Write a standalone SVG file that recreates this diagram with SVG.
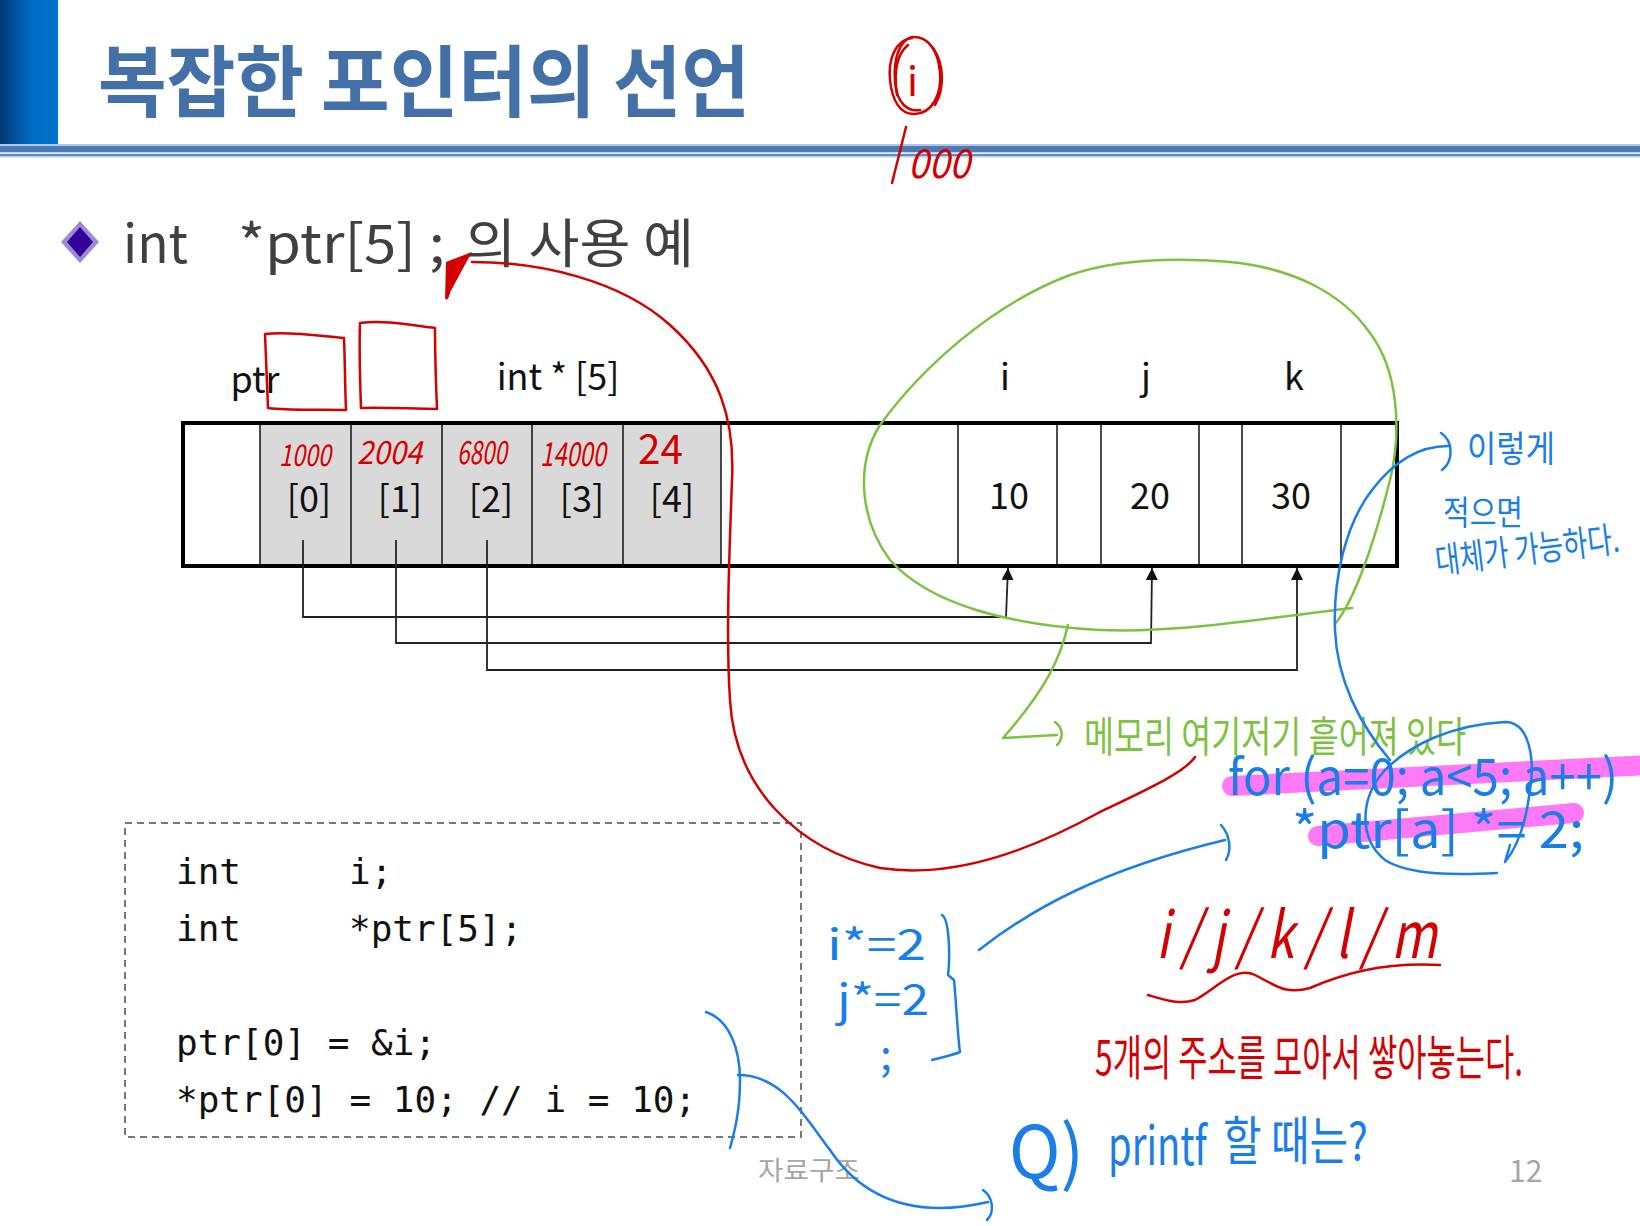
<svg xmlns="http://www.w3.org/2000/svg" width="1640" height="1226" viewBox="0 0 1640 1226">
<defs>
<linearGradient id="gBar" x1="0" y1="0" x2="1" y2="0">
<stop offset="0" stop-color="#003a76"/>
<stop offset="0.55" stop-color="#006cc4"/>
<stop offset="1" stop-color="#0072cc"/>
</linearGradient>
<marker id="arr" viewBox="0 0 12 12" refX="12" refY="6" markerWidth="12" markerHeight="12" markerUnits="userSpaceOnUse" orient="auto">
<path d="M0,0 L12,6 L0,12 z" fill="#111"/>
</marker>
</defs>
<style>
.kr{font-family:"Noto Sans CJK KR","Noto Sans",sans-serif}
.lbl{font-family:"Noto Sans CJK KR","Noto Sans",sans-serif;font-size:36px;fill:#111;text-anchor:middle}
.code{font-family:"DejaVu Sans Mono","Liberation Mono",monospace;font-size:36px;fill:#111}
.cell{stroke:#111;stroke-width:1.5}
.con{fill:none;stroke:#222;stroke-width:1.8}
.red{fill:none;stroke:#d40000;stroke-width:2.5;stroke-linecap:round;stroke-linejoin:round}
.redt{font-family:"Noto Sans CJK KR","DejaVu Sans",sans-serif;fill:#d40000;font-weight:400}
.grn{fill:none;stroke:#7cc23f;stroke-width:2.5;stroke-linecap:round;stroke-linejoin:round}
.grnt{font-family:"Noto Sans CJK KR",sans-serif;fill:#7cc23f;font-weight:400}
.blu{fill:none;stroke:#1a7ee8;stroke-width:2.5;stroke-linecap:round;stroke-linejoin:round}
.blut{font-family:"Noto Sans CJK KR","DejaVu Sans",sans-serif;fill:#1a7ee8;font-weight:400}
.hl{stroke:#ff78f6;stroke-width:20;stroke-linecap:round;fill:none}
</style>
<rect width="1640" height="1226" fill="#fff"/>

<g id="title">
<rect x="0" y="0" width="58" height="148" fill="url(#gBar)"/>
<rect x="0" y="144" width="1640" height="2" fill="#b4c6e0"/>
<rect x="0" y="146" width="1640" height="6" fill="#4a7ab8"/>
<rect x="0" y="152" width="1640" height="1.5" fill="#c6d4ea"/>
<rect x="0" y="154" width="1640" height="2.5" fill="#5f8cc6"/>
<rect x="0" y="156.5" width="1640" height="1" fill="#c6d4ea"/>
<text class="kr" x="98" y="111" font-size="78" font-weight="700" fill="#4470a8" textLength="652" lengthAdjust="spacingAndGlyphs">복잡한 포인터의 선언</text>
</g>

<g id="bullet">
<polygon points="80,221 99,242 80,263 61,242" fill="#9a8ad8"/>
<polygon points="80,227 93,242 80,257 67,242" fill="#330099"/>
<text class="kr" x="123" y="263" font-size="53" fill="#404040" textLength="65" lengthAdjust="spacingAndGlyphs">int</text>
<text class="kr" x="238" y="263" font-size="53" fill="#404040" textLength="207" lengthAdjust="spacingAndGlyphs">*ptr[5] ;</text>
<text class="kr" x="465" y="263" font-size="53" fill="#404040" textLength="229" lengthAdjust="spacingAndGlyphs">의 사용 예</text>
</g>

<g id="memory">
<rect x="183" y="423" width="1214" height="143" fill="#fff" stroke="#000" stroke-width="4"/>
<rect x="260" y="425" width="461" height="139" fill="#d9d9d9"/>
<g class="cell">
<line x1="260" y1="425" x2="260" y2="564"/>
<line x1="351" y1="425" x2="351" y2="564"/>
<line x1="442" y1="425" x2="442" y2="564"/>
<line x1="532" y1="425" x2="532" y2="564"/>
<line x1="623" y1="425" x2="623" y2="564"/>
<line x1="721" y1="425" x2="721" y2="564"/>
<line x1="958" y1="425" x2="958" y2="564"/>
<line x1="1057" y1="425" x2="1057" y2="564"/>
<line x1="1101" y1="425" x2="1101" y2="564"/>
<line x1="1199" y1="425" x2="1199" y2="564"/>
<line x1="1242" y1="425" x2="1242" y2="564"/>
<line x1="1341" y1="425" x2="1341" y2="564"/>
</g>
<g id="ptr0"><text class="lbl" x="309" y="512">[0]</text></g>
<g id="ptr1"><text class="lbl" x="400" y="512">[1]</text></g>
<g id="ptr2"><text class="lbl" x="491" y="512">[2]</text></g>
<g id="ptr3"><text class="lbl" x="582" y="512">[3]</text></g>
<g id="ptr4"><text class="lbl" x="672" y="512">[4]</text></g>
<g id="var-i"><text class="lbl" x="1009" y="509">10</text><text class="lbl" x="1005" y="390">i</text></g>
<g id="var-j"><text class="lbl" x="1150" y="509">20</text><text class="lbl" x="1146" y="390">j</text></g>
<g id="var-k"><text class="lbl" x="1291" y="509">30</text><text class="lbl" x="1294" y="390">k</text></g>
<text class="lbl" x="255" y="393">ptr</text>
<text class="lbl" x="558" y="390">int * [5]</text>
</g>

<g id="connectors">
<path class="con" d="M303,540 V617 H1006 L1008,568" marker-end="url(#arr)"/>
<path class="con" d="M396,540 V643 H1151 L1152,568" marker-end="url(#arr)"/>
<path class="con" d="M487,540 V670 H1297 V568" marker-end="url(#arr)"/>
</g>

<g id="code">
<rect x="125" y="823" width="676" height="314" fill="none" stroke="#777" stroke-width="2" stroke-dasharray="7,5"/>
<text class="code" x="176" y="884">int<tspan x="349">i;</tspan></text>
<text class="code" x="176" y="941">int<tspan x="349">*ptr[5];</tspan></text>
<text class="code" x="176" y="1055">ptr[0] = &amp;i;</text>
<text class="code" x="176" y="1112">*ptr[0] = 10; // i = 10;</text>
</g>

<g id="footer">
<text class="kr" x="758" y="1180" font-size="26" fill="#a6a6a6" textLength="102" lengthAdjust="spacingAndGlyphs">자료구조</text>
<text class="kr" x="1509" y="1182" font-size="30" fill="#a6a6a6">12</text>
</g>

<g id="red-notes">
<path class="red" d="M912,38 C895,40 888,60 890,80 C892,100 900,115 915,114 C932,113 942,95 940,72 C938,50 928,36 912,37 C900,40 893,58 895,82 C897,104 908,112 920,110"/>
<path class="red" d="M908,45 C896,55 894,75 897,95 M933,48 C945,65 944,90 935,105"/>
<text class="redt" x="907" y="96" font-size="40">i</text>
<path class="red" d="M906,127 L892,183"/>
<text class="redt" x="908" y="178" font-size="40" font-style="italic" textLength="62" lengthAdjust="spacingAndGlyphs">000</text>
<path class="red" d="M265,334 C290,331 320,336 344,338 C345,362 345,388 346,410 C320,409 292,411 268,408 C267,385 266,360 265,334 Z"/>
<path class="red" d="M360,323 C385,320 410,325 435,328 C435,355 436,385 437,409 C412,409 386,407 361,408 C360,380 359,350 360,323 Z"/>
<text class="redt" x="279" y="466" font-size="30" font-style="italic" textLength="52" lengthAdjust="spacingAndGlyphs">1000</text>
<text class="redt" x="357" y="464" font-size="32" font-style="italic" textLength="65" lengthAdjust="spacingAndGlyphs">2004</text>
<text class="redt" x="457" y="464" font-size="32" font-style="italic" textLength="50" lengthAdjust="spacingAndGlyphs">6800</text>
<text class="redt" x="540" y="466" font-size="33" font-style="italic" textLength="66" lengthAdjust="spacingAndGlyphs">14000</text>
<text class="redt" x="638" y="464" font-size="40" textLength="45" lengthAdjust="spacingAndGlyphs">24</text>
<path class="red" d="M472,262 C540,262 620,280 670,325 C720,370 735,420 732,480 C729,560 726,640 730,700 C735,790 800,850 880,868 C960,880 1040,845 1100,812 C1150,788 1185,772 1195,757"/>
<polygon points="446,262 472,252 445,300" fill="#d40000"/>
<path class="red" d="M448,264 L468,256 L450,290 L460,260 L447,298"/>
<text class="redt" x="1156" y="958" font-size="64" font-style="italic" textLength="281" lengthAdjust="spacingAndGlyphs">i / j / k / l / m</text>
<path class="red" d="M1148,995 C1165,1000 1180,1005 1195,1000 C1215,990 1235,965 1255,975 C1275,985 1285,995 1310,988 C1340,975 1380,962 1440,965"/>
<text class="redt" x="1095" y="1075" font-size="48" textLength="428" lengthAdjust="spacingAndGlyphs">5개의 주소를 모아서 쌓아놓는다.</text>
</g>

<g id="green-notes">
<path class="grn" d="M1335,624 C1355,600 1375,540 1390,480 C1402,430 1398,370 1370,333 C1340,290 1290,270 1240,263 C1180,257 1120,258 1070,275 C990,305 920,370 880,425 C855,465 860,520 890,560 C930,605 1010,625 1100,630 C1180,633 1250,620 1352,608"/>
<path class="grn" d="M1068,625 C1060,660 1045,690 1003,738 L1057,735"/>
<path class="grn" d="M1055,722 C1063,728 1064,738 1057,745"/>
<text class="grnt" x="1084" y="752" font-size="42" textLength="382" lengthAdjust="spacingAndGlyphs">메모리 여기저기 흩어져 있다</text>
</g>

<g id="blue-notes">
<path class="hl" d="M1232,786 L1650,765"/>
<path class="hl" d="M1318,836 L1574,813"/>
<path class="blu" d="M1448,446 C1420,446 1395,460 1372,490 C1345,525 1333,580 1335,630 C1337,680 1360,725 1390,760"/>
<path class="blu" d="M1441,433 C1452,440 1455,460 1442,470"/>
<text class="blut" x="1467" y="462" font-size="36" textLength="88" lengthAdjust="spacingAndGlyphs">이렇게</text>
<text class="blut" x="1443" y="525" font-size="34" textLength="80" lengthAdjust="spacingAndGlyphs">적으면</text>
<text class="blut" x="1437" y="574" font-size="36" textLength="185" lengthAdjust="spacingAndGlyphs" transform="rotate(-7 1437 574)">대체가 가능하다.</text>
<text class="blut" x="1228" y="795" font-size="50" textLength="390" lengthAdjust="spacingAndGlyphs">for (a=0; a&lt;5; a++)</text>
<text class="blut" x="1292" y="848" font-size="50" textLength="292" lengthAdjust="spacingAndGlyphs">*ptr[a] *= 2;</text>
<path class="blu" d="M1497,873 C1460,875 1410,876 1385,860 C1360,840 1358,800 1385,770 C1410,745 1450,725 1505,722 C1530,722 1535,760 1530,790 C1525,830 1515,850 1505,862 L1510,845"/>
<text class="blut" x="827" y="960" font-size="42" textLength="99" lengthAdjust="spacingAndGlyphs">i*=2</text>
<text class="blut" x="837" y="1015" font-size="42" textLength="92" lengthAdjust="spacingAndGlyphs">j*=2</text>
<text class="blut" x="880" y="1070" font-size="42">;</text>
<path class="blu" d="M942,915 C950,920 950,960 948,975 L954,980 C956,1000 958,1040 960,1052 C950,1056 940,1058 932,1060"/>
<path class="blu" d="M979,950 C1030,910 1100,870 1225,840"/>
<path class="blu" d="M1221,825 C1230,835 1232,850 1226,860"/>
<path class="blu" d="M706,1012 C730,1020 740,1050 740,1080 C740,1110 735,1130 730,1148"/>
<path class="blu" d="M738,1075 C780,1075 800,1110 830,1150 C860,1195 900,1208 940,1208 C960,1208 975,1205 988,1202"/>
<path class="blu" d="M983,1190 C993,1197 995,1212 987,1220"/>
<text class="blut" x="1009" y="1178" font-size="72" textLength="75" lengthAdjust="spacingAndGlyphs">Q)</text>
<text class="blut" x="1108" y="1165" font-size="54" textLength="99" lengthAdjust="spacingAndGlyphs">printf</text>
<text class="blut" x="1223" y="1160" font-size="52" textLength="145" lengthAdjust="spacingAndGlyphs">할 때는?</text>
</g>
</svg>
